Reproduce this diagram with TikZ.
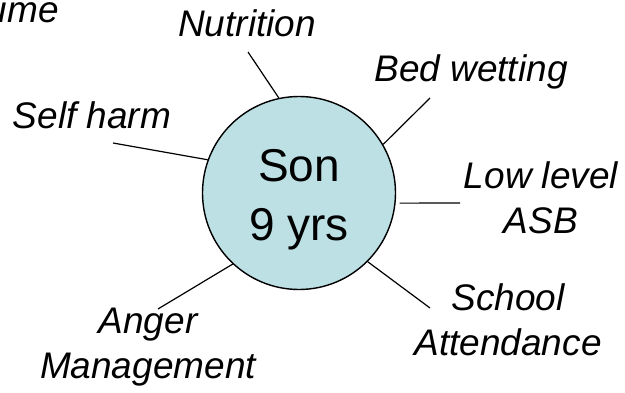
\documentclass[tikz,border=0pt]{standalone}
\usepackage{fontspec}
\setmainfont{Liberation Sans}
\usepackage{tikz}
\definecolor{sonblue}{RGB}{188,224,228}

\begin{document}
\begin{tikzpicture}[x=1pt, y=1pt,
  issue/.style={font=\fontsize{37}{45}\selectfont\itshape, align=center, inner sep=0pt, anchor=base},
  spoke/.style={line width=1.2pt, black}]

\useasboundingbox (0,0) rectangle (625,392);

\node[draw, line width=1.4pt, fill=sonblue, circle, minimum size=193pt, inner sep=0pt] (son) at (299,199) {};
\node[font=\fontsize{46}{59}\selectfont, align=center, inner sep=0pt] (sonname) at (299,192) {Son\\9 yrs};

\node[issue, anchor=base east] (cutoff) at (59,370) {ume};
\node[issue] (nutrition) at (247,355) {Nutrition};
\node[issue] (selfharm) at (92,264) {Self harm};
\node[issue] (bedwet) at (471,310) {Bed wetting};
\node[issue] (asb) at (541,159) {Low level\\ASB};
\node[issue] (school) at (508,37) {School\\Attendance};
\node[issue] (anger) at (148,14) {Anger\\Management};

\coordinate (e1) at (248,340);
\coordinate (e2) at (430,294);
\coordinate (e3) at (460,189);
\coordinate (e4) at (430,84);
\coordinate (e5) at (158,83);
\coordinate (e6) at (113,249);

\draw[spoke] (e1) -- (son.102);
\draw[spoke] (e2) -- (son.30);
\draw[spoke, shorten >=4pt] (e3) -- (son.-6);
\draw[spoke] (e4) -- (son.-45);
\draw[spoke] (e5) -- (son.-133);
\draw[spoke] (e6) -- (son.160);

\end{tikzpicture}
\end{document}
